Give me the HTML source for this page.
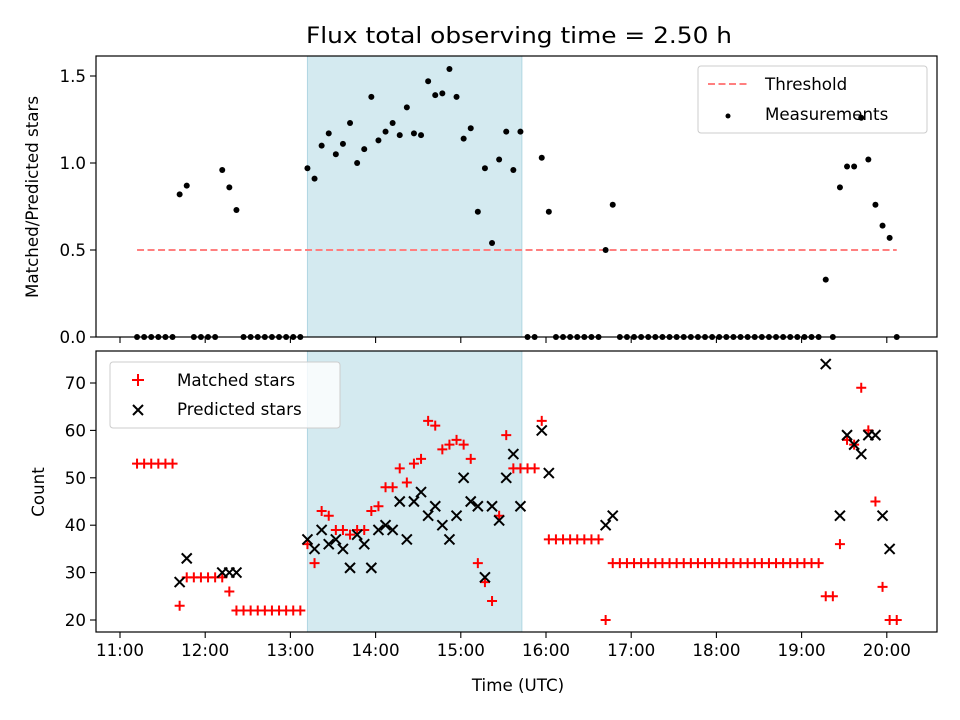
<!DOCTYPE html>
<html><head><meta charset="utf-8"><style>
body{margin:0;background:#fff}
svg{display:block;font-family:"DejaVu Sans","Liberation Sans",sans-serif}
</style></head><body>
<svg id="chart" width="960" height="720" viewBox="0 0 960 720" xmlns="http://www.w3.org/2000/svg">
<rect width="960" height="720" fill="#fff"/>
<text x="519" y="43" font-size="22" text-anchor="middle" textLength="426" lengthAdjust="spacingAndGlyphs">Flux total observing time = 2.50 h</text>
<g id="topPanel"></g>
<g id="botPanel"></g>
<text x="518" y="691" font-size="16.7" text-anchor="middle">Time (UTC)</text>
<text transform="translate(38,197) rotate(-90)" font-size="16.7" text-anchor="middle">Matched/Predicted stars</text>
<text transform="translate(44,492) rotate(-90)" font-size="16.7" text-anchor="middle">Count</text>
</svg>
<script>
const times = [672,677,682,687,692,697,702,707,712,717,722,727,732,737,742,747,752,757,762,767,772,777,782,787,792,797,802,807,812,817,822,827,832,837,842,847,852,857,862,867,872,877,882,887,892,897,902,907,912,917,922,927,932,937,942,947,952,957,962,967,972,977,982,987,992,997,1002,1007,1012,1017,1022,1027,1032,1037,1042,1047,1052,1057,1062,1067,1072,1077,1082,1087,1092,1097,1102,1107,1112,1117,1122,1127,1132,1137,1142,1147,1152,1157,1162,1167,1172,1177,1182,1187,1192,1197,1202,1207];
const ratio = [0,0,0,0,0,0,.82,.87,0,0,0,0,.96,.86,.73,0,0,0,0,0,0,0,0,0,.97,.91,1.10,1.17,1.05,1.11,1.23,1.00,1.08,1.38,1.13,1.18,1.23,1.16,1.32,1.17,1.16,1.47,1.39,1.40,1.54,1.38,1.14,1.20,.72,.97,.54,1.02,1.18,.96,1.18,0,0,1.03,.72,0,0,0,0,0,0,0,.50,.76,0,0,0,0,0,0,0,0,0,0,0,0,0,0,0,0,0,0,0,0,0,0,0,0,0,0,0,0,0,.33,0,.86,.98,.98,1.26,1.02,.76,.64,.57,0];
const matched = [53,53,53,53,53,53,23,29,29,29,29,29,29,26,22,22,22,22,22,22,22,22,22,22,36,32,43,42,39,39,38,39,39,43,44,48,48,52,49,53,54,62,61,56,57,58,57,54,32,28,24,42,59,52,52,52,52,62,37,37,37,37,37,37,37,37,20,32,32,32,32,32,32,32,32,32,32,32,32,32,32,32,32,32,32,32,32,32,32,32,32,32,32,32,32,32,32,25,25,36,58,57,69,60,45,27,20,20];
const predicted = [null,null,null,null,null,null,28,33,null,null,null,null,30,30,30,null,null,null,null,null,null,null,null,null,37,35,39,36,37,35,31,38,36,31,39,40,39,45,37,45,47,42,44,40,37,42,50,45,44,29,44,41,50,55,44,null,null,60,51,null,null,null,null,null,null,null,40,42,null,null,null,null,null,null,null,null,null,null,null,null,null,null,null,null,null,null,null,null,null,null,null,null,null,null,null,null,null,74,null,42,59,57,55,59,59,42,35,null];
const xTickLabels = ["11:00","12:00","13:00","14:00","15:00","16:00","17:00","18:00","19:00","20:00"];
const topTicks = [0,0.5,1.0,1.5];
const botTicks = [20,30,40,50,60,70];
const threshold = 0.5;
const shadeStart = 792, shadeEnd = 943;

const NS="http://www.w3.org/2000/svg";
const L=96,R=937,T1=56,B1=337,T2=351,B2=632;
const xs=m=>120+(m-660)*85.2/60;
const y1=v=>337-v*174;
const y2=c=>620-(c-20)*4.74;
function mk(tag,attrs,parent,txt){const e=document.createElementNS(NS,tag);for(const k in attrs)e.setAttribute(k,attrs[k]);if(txt!==undefined)e.textContent=txt;parent.appendChild(e);return e;}
const topG=document.getElementById('topPanel'),botG=document.getElementById('botPanel');

[[topG,T1,B1],[botG,T2,B2]].forEach(([g,T,B],pi)=>{
  const s=mk('rect',{x:xs(shadeStart),y:T,width:xs(shadeEnd)-xs(shadeStart),height:B-T,fill:'#d4eaf0',stroke:'#b0d6e2','stroke-width':1},g);
  
  
  xTickLabels.forEach((lab,i)=>{
    const x=xs(660+60*i);
    const t=mk('line',{x1:x,x2:x,y1:B,y2:B+6,stroke:'#000','stroke-width':1.1},g);
    
    
    if(pi===1){const tl=mk('text',{x:x,y:B+24,'font-size':16.7,'text-anchor':'middle'},g,lab);
      
      }
  });
});
topTicks.forEach(v=>{
  const y=y1(v);
  const t=mk('line',{x1:L-6,x2:L,y1:y,y2:y,stroke:'#000','stroke-width':1.1},topG);
  
  
  const tl=mk('text',{x:L-10,y:y+6,'font-size':16.7,'text-anchor':'end'},topG,v.toFixed(1));
  
  
});
botTicks.forEach(v=>{
  const y=y2(v);
  const t=mk('line',{x1:L-6,x2:L,y1:y,y2:y,stroke:'#000','stroke-width':1.1},botG);
  
  
  const tl=mk('text',{x:L-10,y:y+6,'font-size':16.7,'text-anchor':'end'},botG,String(v));
  
  
});
const lg1=mk('g',{},topG);


mk('rect',{x:698,y:66,width:229,height:67,rx:3,fill:'#fff','fill-opacity':0.8,stroke:'#ccc'},lg1);
mk('line',{x1:708,x2:748,y1:84,y2:84,stroke:'#ff7f7f','stroke-width':2,'stroke-dasharray':'7,3.5'},lg1);
mk('text',{x:765,y:90,'font-size':16.7},lg1,'Threshold');
mk('circle',{cx:728,cy:116,r:2.5,fill:'#000'},lg1);
mk('text',{x:765,y:120,'font-size':16.7},lg1,'Measurements');
const lg2=mk('g',{},botG);


mk('rect',{x:110,y:362,width:230,height:66,rx:3,fill:'#fff','fill-opacity':0.8,stroke:'#ccc'},lg2);
mk('path',{d:'M132,380H144M138,374V386',stroke:'#f00','stroke-width':2},lg2);
mk('text',{x:177,y:386,'font-size':16.7},lg2,'Matched stars');
mk('path',{d:'M133,405L143,415M133,415L143,405',stroke:'#000','stroke-width':2},lg2);
mk('text',{x:177,y:415,'font-size':16.7},lg2,'Predicted stars');

const th=mk('line',{x1:xs(times[0]),x2:xs(times[times.length-1]),y1:y1(threshold),y2:y1(threshold),stroke:'#ff7f7f','stroke-width':2,'stroke-dasharray':'7,3.5'},topG);


times.forEach((m,i)=>{
  const c=mk('circle',{cx:xs(m),cy:y1(ratio[i]),r:3,fill:'#000'},topG);
  
  
});
times.forEach((m,i)=>{
  const x=xs(m),y=y2(matched[i]);
  const p=mk('path',{d:`M${x-5},${y}H${x+5}M${x},${y-5}V${y+5}`,stroke:'#f00','stroke-width':2,fill:'none'},botG);
  
  
});
times.forEach((m,i)=>{
  if(predicted[i]===null)return;
  const x=xs(m),y=y2(predicted[i]);
  const p=mk('path',{d:`M${x-5},${y-5}L${x+5},${y+5}M${x-5},${y+5}L${x+5},${y-5}`,stroke:'#000','stroke-width':2,fill:'none'},botG);
  
  
});
[[topG,T1,B1],[botG,T2,B2]].forEach(([g,T,B])=>{
  const f=mk('rect',{x:L,y:T,width:R-L,height:B-T,fill:'none',stroke:'#000','stroke-width':1.2},g);
  
  
});
</script>
</body></html>
